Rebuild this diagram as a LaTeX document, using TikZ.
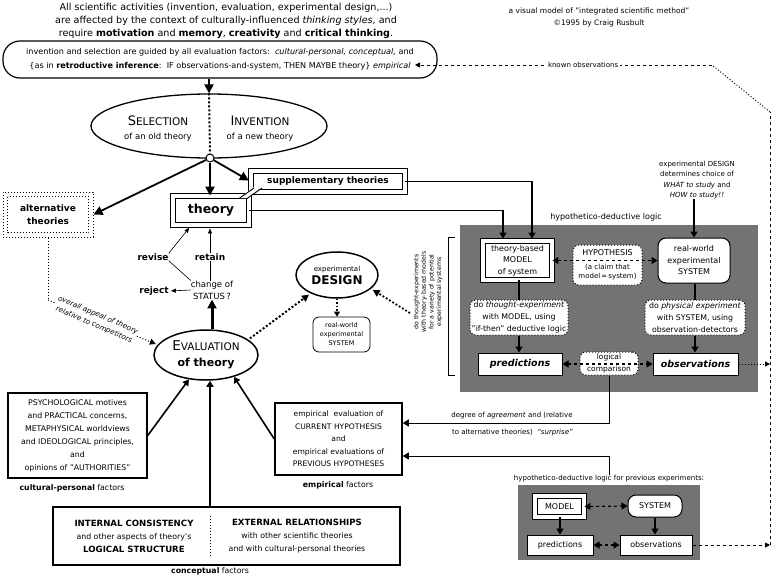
\documentclass[tikz,border=0pt]{standalone}
\usepackage{fontspec}
\setmainfont{DejaVu Sans}
\usetikzlibrary{arrows.meta,shapes.geometric,calc}
\newcommand\fsz[2]{\fontsize{#1}{#2}\selectfont}
\tikzset{
  lbl/.style={inner sep=0pt, align=center},
  frame/.style={draw, line width=1.5pt, inner sep=0pt, align=center},
  dbl/.style={draw, line width=0.9pt, double=white, double distance=3.5pt, fill=white, inner sep=0pt, align=center},
  wbox/.style={draw, line width=1pt, fill=white, inner sep=0pt, align=center},
  rbox/.style={wbox, rounded corners=7pt},
  dotbox/.style={draw, dotted, line width=1pt, fill=white, rounded corners=6pt, inner sep=0pt, align=center},
  arr/.style={-{Triangle[width=7pt,length=6pt]}, line width=1.3pt},
  bigarr/.style={-{Triangle[width=9pt,length=9pt]}, line width=2.2pt},
  thinln/.style={line width=0.6pt},
  thinarr/.style={-{Triangle[width=4pt,length=5pt]}, line width=0.6pt},
  dasharr/.style={dashed, line width=1.2pt, {Triangle[width=7pt,length=6pt]}-{Triangle[width=7pt,length=6pt]}},
  outl/.style={font=\fsz{9.5}{10}\bfseries\itshape},
  hdgray/.style={fill=black!55, inner sep=0pt},
}
\begin{document}
\begin{tikzpicture}[x=1pt,y=-1pt]
\useasboundingbox (0,0) rectangle (776,576);
\fill[white] (0,0) rectangle (776,576);

% top texts
\node[lbl, font=\fsz{9.6}{13}] (toptxt) at (226,21) {All scientific activities (invention, evaluation, experimental design,...)\\are affected by the context of culturally-influenced \textit{thinking styles}, and\\require \textbf{motivation} and \textbf{memory}, \textbf{creativity} and \textbf{critical thinking}.};
\node[lbl, font=\fsz{7.5}{12}] (credit) at (599,17) {a visual model of "integrated scientific method"\\\textcopyright1995 by Craig Rusbult};

% guiding box
\node[draw, line width=1.2pt, rounded corners=17pt, minimum width=434pt, minimum height=37pt, inner sep=0pt, align=center, font=\fsz{8.1}{14}] (topbox) at (220,59.5)
 {invention and selection are guided by all evaluation factors:\ \ \textit{cultural-personal, conceptual,} and\\
  \{as in \textbf{retroductive inference}:\ \ IF observations-and-system, THEN MAYBE theory\} \textit{empirical}\hspace{12pt}};

% selection / invention
\node[ellipse, draw, line width=1.3pt, minimum width=236pt, minimum height=64pt, inner sep=0pt] (selinv) at (209,126) {};
\node[lbl, font=\fsz{8.5}{14}] (sel) at (158,129) {{\fsz{13}{14}S}{\fsz{10.5}{14}ELECTION}\\of an old theory};
\node[lbl, font=\fsz{8.5}{14}] (inv) at (260,129) {{\fsz{13}{14}I}{\fsz{10.5}{14}NVENTION}\\of a new theory};
\node[circle, draw, fill=white, line width=1pt, minimum size=8pt, inner sep=0pt] (jn) at (210,158) {};
\draw[dotted, line width=2pt] (selinv.north) -- (jn.north);
\draw[bigarr] (topbox.south -| selinv.north) -- (selinv.north);

% theory boxes
\node[dbl, minimum width=76pt, minimum height=29pt, font=\fsz{12.5}{14}\bfseries] (theory) at (211,210.5) {theory};
\node[dbl, minimum width=154pt, minimum height=21pt, font=\fsz{9}{10}\bfseries] (supp) at (328,181.5) {supplementary theories};
\fill[white] (239,198) -- (254,187) -- (262,187) -- (247,198) -- cycle;
\draw[line width=0.9pt] (239,198.5) -- (254,188);
\draw[line width=0.9pt] (247,198.5) -- (262,188);

% alternative theories
\node[draw, dotted, line width=1pt, minimum width=90pt, minimum height=45pt, inner sep=0pt, align=center, font=\fsz{9}{13}\bfseries] (alt) at (48,214.5) {alternative\\theories};
\draw[dotted, line width=1pt] ($(alt.north west)+(5,5)$) rectangle ($(alt.south east)+(-5,-5)$);

\draw[bigarr, line width=1.8pt] (jn) -- (alt.east);
\draw[bigarr] (jn.south) -- (theory.north -| jn.south);
\draw[bigarr, line width=1.8pt, shorten >=2pt] (jn) -- (supp.west);

% status
\node[lbl, font=\fsz{8.5}{12}] (status) at (212,290) {change of\\STATUS\,?};
\node[lbl, font=\fsz{9}{10}\bfseries] (retain) at (210,257) {retain};
\node[lbl, font=\fsz{9}{10}\bfseries] (revise) at (153,257) {revise};
\node[lbl, font=\fsz{9}{10}\bfseries] (reject) at (154,291) {reject};
\draw[thinln] (status.north -| retain) -- (retain.south);
\draw[thinarr, shorten >=3pt] (retain.north) -- (retain.north |- theory.south);
\draw[thinln] (status.north west) -- (revise.south east);
\draw[thinarr, shorten >=3pt] (revise.north east) -- (theory.217);
\draw[thinarr, shorten >=2pt] (status.west) -- (reject.east);

% evaluation
\node[ellipse, draw, line width=1.5pt, minimum width=104pt, minimum height=50pt, inner sep=0pt, align=center, font=\fsz{10}{16}] (eval) at (206,355) {{\fsz{13.5}{16}E}{\fsz{10.5}{16}VALUATION}\\{\fsz{11}{16}\bfseries of theory}};
\draw[bigarr, line width=3pt] (eval.north -| status) -- (status.south);

% alternative -> evaluation
\coordinate (ap) at (48,300);
\draw[dotted, line width=1pt] (alt.south) -- (ap);
\draw[dotted, line width=1pt, -{Triangle[width=6pt,length=6pt]}, shorten >=2pt] (ap) -- (eval.168);
\node[lbl, fill=white, rotate=-23, font=\fsz{7.2}{10.5}\itshape] (appeal) at (96,320) {overall appeal of theory\\relative to competitors};

% design
\node[ellipse, draw, line width=1.5pt, minimum width=82pt, minimum height=46pt, inner sep=0pt, align=center, font=\fsz{7}{13}] (design) at (337,275) {experimental\\{\fsz{12}{13}\bfseries DESIGN}};
\node[rbox, line width=0.8pt, rounded corners=6pt, minimum width=57pt, minimum height=35pt, font=\fsz{6.5}{9}] (rwsys) at (341.5,334.5) {real-world\\experimental\\SYSTEM};
\draw[dotted, line width=1.5pt, -{Triangle[width=6pt,length=5pt]}] (design.south) -- (design.south |- rwsys.north);
\draw[dotted, line width=2pt, -{Triangle[width=7pt,length=7pt]}, shorten <=2pt, shorten >=2pt] (eval.20) -- (design.215);

% vertical text and bracket
\node[lbl, rotate=90, font=\fsz{6.2}{7.6}] (vtext) at (428,292) {do thought-experiments\\with theory-based models\\for a variety of potential\\experimental systems};
\coordinate (vt) at (410,313);
\draw[dotted, line width=1.8pt, -{Triangle[width=7pt,length=7pt]}, shorten >=2pt] (vt) -- (design.338);
\draw[line width=0.8pt] (455,237) -- (448,237) -- (448,375) -- (455,375);

% HD logic box
\node[hdgray, minimum width=298pt, minimum height=167pt] (hd) at (609,308.5) {};
\node[lbl, font=\fsz{8}{10}] (hdl) at (606,217) {hypothetico-deductive logic};
\node[dbl, minimum width=69pt, minimum height=39pt, font=\fsz{8}{11.5}] (model) at (517.5,260.5) {theory-based\\MODEL\\of system};
\node[rbox, rounded corners=8pt, minimum width=72pt, minimum height=45pt, font=\fsz{8}{11.5}] (sys) at (694,260.5) {real-world\\experimental\\SYSTEM};
\node[dotbox, minimum width=69pt, minimum height=40pt, font=\fsz{7}{9.5}] (hyp) at (607.5,265) {{\fsz{8}{10}HYPOTHESIS}\\[4pt](a claim that\\model\,≈\,system)};
\draw[dasharr] (model.east) -- (sys.west);
\node[dotbox, minimum width=98pt, minimum height=35pt, font=\fsz{7.8}{12}] (thought) at (519,317.5) {do \textit{thought-experiment}\\with MODEL, using\\"if-then" deductive logic};
\node[dotbox, minimum width=100pt, minimum height=35pt, font=\fsz{7.8}{12}] (phys) at (695,317.5) {do \textit{physical experiment}\\with SYSTEM, using\\observation-detectors};
\node[wbox, minimum width=84pt, minimum height=22pt, outl] (pred) at (520,364) {predictions};
\node[wbox, minimum width=85pt, minimum height=22pt, outl] (obs) at (695.5,364) {observations};
\node[dotbox, minimum width=58pt, minimum height=23pt, font=\fsz{7.5}{11}] (logic) at (609,363.5) {logical\\[1pt]comparison};
\draw[dasharr] (pred.east) -- (obs.west);
\draw[line width=1.2pt] (model.south -| thought) -- (thought.north);
\draw[line width=1.2pt] (sys.south -| phys) -- (phys.north);
\draw[arr] (thought.south) -- (thought.south |- pred.north);
\draw[arr] (phys.south) -- (phys.south |- obs.north);

% design text
\node[lbl, font=\fsz{7}{10.3}] (dtext) at (697,180) {experimental DESIGN\\determines choice of\\\textit{WHAT to study} and\\\textit{HOW to study!!}};
\draw[arr, line width=1.5pt] (dtext.south -| sys.north) -- (sys.north);

% theory lines to model
\draw[arr, line width=1.5pt, shorten >=2pt] (supp.east) -| ($(model.north)+(14.5,0)$);
\draw[arr, line width=1.5pt, shorten >=2pt] (theory.east) -| ($(model.north)+(-14.5,0)$);

% factor boxes
\node[frame, minimum width=139pt, minimum height=85pt, font=\fsz{7.8}{13}] (cult) at (77.5,435.5) {PSYCHOLOGICAL motives\\and PRACTICAL concerns,\\METAPHYSICAL worldviews\\and IDEOLOGICAL principles,\\and\\opinions of "AUTHORITIES"};
\node[lbl, font=\fsz{7.8}{10}] (cultl) at (72,488) {\textbf{cultural-personal} factors};
\node[frame, minimum width=127pt, minimum height=72pt, font=\fsz{7.6}{12.5}] (emp) at (338.5,439) {empirical\ \ evaluation of\\CURRENT HYPOTHESIS\\and\\empirical evaluations of\\PREVIOUS HYPOTHESES};
\node[lbl, font=\fsz{7.8}{10}] (empl) at (338,485) {\textbf{empirical} factors};
\node[frame, minimum width=347pt, minimum height=58pt] (conc) at (226.5,536) {};
\node[lbl, font=\fsz{7.8}{13}] (intc) at (134,536) {{\fsz{8.6}{13}\bfseries INTERNAL CONSISTENCY}\\and other aspects of theory's\\{\fsz{8.6}{13}\bfseries LOGICAL STRUCTURE}};
\node[lbl, font=\fsz{7.8}{13}] (extr) at (297,536) {{\fsz{8.6}{13}\bfseries EXTERNAL RELATIONSHIPS}\\with other scientific theories\\and with cultural-personal theories};
\draw[dotted, line width=1pt] ($(conc.north -| jn)+(0,10)$) -- ($(conc.south -| jn)+(0,-8)$);
\node[lbl, font=\fsz{7.8}{10}] (concl) at (210,571) {\textbf{conceptual} factors};

\draw[arr, line width=1.6pt] (cult.east) -- (eval.235);
\draw[arr, line width=1.6pt] (emp.west) -- (eval.322);
\draw[arr, line width=1.6pt] (conc.north -| jn) -- (eval.south -| jn);

% comparison results
\draw[arr, line width=1pt] (logic.south) |- ($(emp.east)+(0,-16)$);
\node[lbl, font=\fsz{7}{9}] (agr1) at (512,416) {degree of \textit{agreement} and (relative};
\node[lbl, anchor=west, font=\fsz{7}{9}] (agr2) at (452,433) {to alternative theories)\ \ \textit{``surprise''}};

% bottom HD
\node[lbl, font=\fsz{7}{9}] (bhdl) at (609,479) {hypothetico-deductive logic for previous experiments:};
\draw[arr, line width=1pt] (bhdl.north -| logic.south) |- ($(emp.east)+(0,17)$);
\node[hdgray, minimum width=182pt, minimum height=75pt] (bhd) at (609,522.5) {};
\node[dbl, minimum width=49pt, minimum height=21pt, font=\fsz{8}{10}] (bmodel) at (559.5,506.5) {MODEL};
\node[rbox, rounded corners=8pt, minimum width=54pt, minimum height=22pt, font=\fsz{8}{10}] (bsys) at (655,506) {SYSTEM};
\node[wbox, minimum width=66pt, minimum height=20pt, font=\fsz{8}{10}] (bpred) at (560,545) {predictions};
\node[wbox, minimum width=72pt, minimum height=20pt, font=\fsz{8}{10}] (bobs) at (656,545) {observations};
\draw[dasharr] (bmodel.east) -- (bsys.west);
\draw[dasharr] (bpred.east) -- (bobs.west);
\draw[arr] (bmodel.south -| bpred) -- (bpred.north);
\draw[arr] (bsys.south) -- (bsys.south |- bobs.north);

% known observations loop
\coordinate (rb) at (770,545);
\coordinate (rm) at (770,364);
\coordinate (rt) at (770,112);
\coordinate (kt) at (712,65);
\coordinate (ke) at (415,65);
\draw[dashed, line width=0.9pt, -{Triangle[width=5pt,length=5pt]}] (bobs.east) -- (rb);
\draw[dotted, line width=1pt, -{Triangle[width=5pt,length=5pt]}] (obs.east) -- (rm);
\draw[dashed, line width=0.9pt] (rb) -- (rt);
\draw[dotted, line width=1pt] (rt) -- (kt);
\draw[dashed, line width=0.9pt, -{Triangle[width=5pt,length=5pt]}] (kt) -- node[pos=0.434, fill=white, inner sep=2pt, font=\fsz{7}{9}] (known) {known observations} (ke);
\end{tikzpicture}
\end{document}
